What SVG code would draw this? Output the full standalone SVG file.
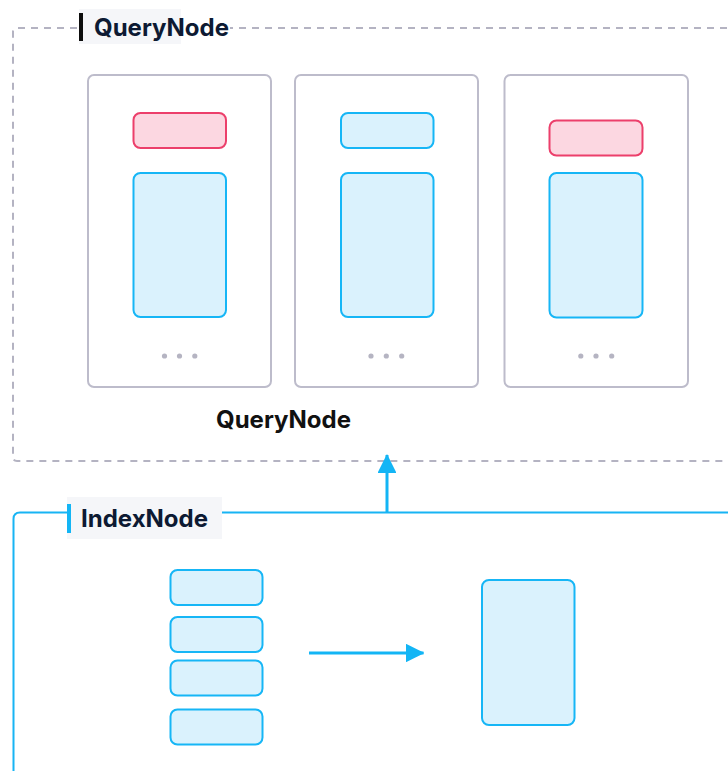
<svg xmlns="http://www.w3.org/2000/svg" width="728" height="771" viewBox="0 0 728 771">
  <style>
    .frame-q { fill: none; stroke: #b4b3c2; stroke-width: 2; stroke-dasharray: 7 6; }
    .frame-i { fill: none; stroke: #17b4f4; stroke-width: 2; }
    .card { fill: #ffffff; stroke: #bdbccb; stroke-width: 2; }
    .pink { fill: #fcd7e1; stroke: #ec3f6b; stroke-width: 2; }
    .blue { fill: #daf2fd; stroke: #16b6f6; stroke-width: 2; }
    .dot { fill: #b5b4c2; }
    .tag-bg { fill: #f5f6f9; }
    .title { font-family: Inter, "Liberation Sans", sans-serif; font-weight: 700; font-size: 24px; fill: #0d1a33; }
    .caption { font-family: Inter, "Liberation Sans", sans-serif; font-weight: 700; font-size: 24px; fill: #111111; }
    .link { fill: none; stroke: #13b5f5; stroke-width: 3; }
  </style>
  <defs>
    <marker id="head" viewBox="0 0 10 10" refX="9.5" refY="5" markerWidth="6.3" markerHeight="6.3" markerUnits="strokeWidth" orient="auto">
      <path d="M0,0 L10,5 L0,10 Z" fill="#13b5f5"/>
    </marker>
  </defs>

  <rect width="728" height="771" fill="#ffffff"/>

  <!-- QueryNode frame -->
  <g id="querynode-frame">
    <path class="frame-q" d="M740,28 H17 Q13,28 13,32 V457 Q13,461 17,461 H740"/>
    <rect class="tag-bg" x="79" y="9" width="102" height="35"/>
    <rect x="181" y="12" width="49" height="30" fill="#ffffff"/>
    <rect x="79" y="13" width="4" height="28" fill="#0d0d0d"/>
    <text class="title" x="94" y="35.5">QueryNode</text>
  </g>

  <g id="card-1">
    <rect class="card" x="88" y="75" width="183" height="312" rx="6"/>
    <rect class="pink" x="133.5" y="113" width="92.5" height="35" rx="7"/>
    <rect class="blue" x="133.5" y="173" width="92.5" height="144" rx="7"/>
    <circle class="dot" cx="164.5" cy="356" r="2.6"/>
    <circle class="dot" cx="179.5" cy="356" r="2.6"/>
    <circle class="dot" cx="194.8" cy="356" r="2.6"/>
  </g>

  <g id="card-2">
    <rect class="card" x="295" y="75" width="183" height="312" rx="6"/>
    <rect class="blue" x="341" y="113" width="92.5" height="35" rx="7"/>
    <rect class="blue" x="341" y="173" width="92.5" height="144" rx="7"/>
    <circle class="dot" cx="371" cy="356" r="2.6"/>
    <circle class="dot" cx="386.3" cy="356" r="2.6"/>
    <circle class="dot" cx="401.7" cy="356" r="2.6"/>
  </g>

  <g id="card-3">
    <rect class="card" x="504.5" y="75" width="183.5" height="312" rx="6"/>
    <rect class="pink" x="549.5" y="120.5" width="93" height="35" rx="7"/>
    <rect class="blue" x="549.5" y="173" width="93" height="144.5" rx="7"/>
    <circle class="dot" cx="580.8" cy="356" r="2.6"/>
    <circle class="dot" cx="596" cy="356" r="2.6"/>
    <circle class="dot" cx="611.7" cy="356" r="2.6"/>
  </g>

  <g id="querynode-caption">
    <text class="caption" x="216" y="427.5">QueryNode</text>
  </g>

  <!-- IndexNode frame -->
  <g id="indexnode-frame">
    <path class="frame-i" d="M740,512.5 H20 Q13.5,512.5 13.5,519 V780"/>
    <rect class="tag-bg" x="67" y="497" width="155" height="42"/>
    <rect x="67" y="504" width="4" height="29" fill="#13b5f5"/>
    <text class="title" x="81" y="526.5">IndexNode</text>
  </g>

  <g id="segment-stack">
    <rect class="blue" x="170.5" y="570" width="92" height="35" rx="7"/>
    <rect class="blue" x="170.5" y="617" width="92" height="35" rx="7"/>
    <rect class="blue" x="170.5" y="660.5" width="92" height="35" rx="7"/>
    <rect class="blue" x="170.5" y="709.5" width="92" height="35" rx="7"/>
  </g>

  <g id="index-block">
    <rect class="blue" x="482" y="580" width="92.5" height="145" rx="7"/>
  </g>

  <g id="connectors">
    <line class="link" x1="387" y1="512" x2="387" y2="455" marker-end="url(#head)"/>
    <line class="link" x1="309" y1="653" x2="423.5" y2="653" marker-end="url(#head)"/>
  </g>
</svg>
